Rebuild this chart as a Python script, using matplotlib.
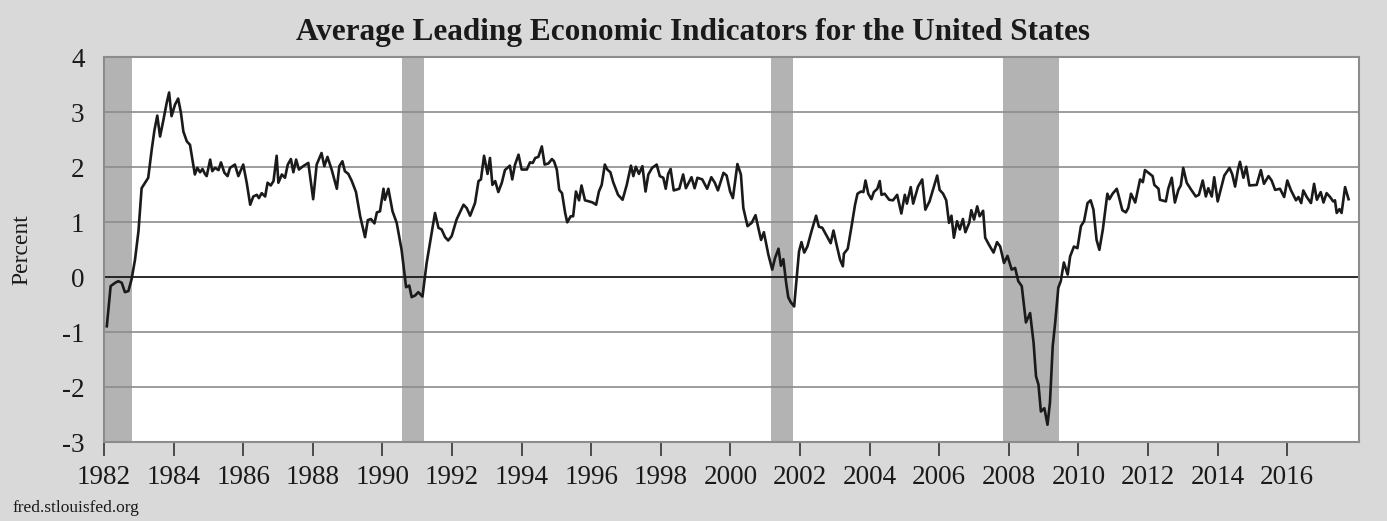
import numpy as np
import matplotlib.pyplot as plt

# decimal year / value (percent)
years = [1982.08, 1982.19, 1982.32, 1982.41, 1982.51, 1982.60, 1982.70, 1982.79, 1982.89, 1982.99,
         1983.08, 1983.18, 1983.27, 1983.37, 1983.45, 1983.53, 1983.61, 1983.70, 1983.80, 1983.87,
         1983.94, 1984.04, 1984.13, 1984.21, 1984.28, 1984.38, 1984.47, 1984.54, 1984.61, 1984.68,
         1984.76, 1984.83, 1984.90, 1984.95, 1985.05, 1985.11, 1985.19, 1985.29, 1985.36, 1985.46,
         1985.55, 1985.62, 1985.76, 1985.86, 1986.00, 1986.10, 1986.20, 1986.29, 1986.39, 1986.45,
         1986.53, 1986.63, 1986.70, 1986.79, 1986.87, 1986.96, 1987.01, 1987.11, 1987.20, 1987.28,
         1987.37, 1987.44, 1987.52, 1987.60, 1987.72, 1987.87, 1988.01, 1988.11, 1988.25, 1988.33,
         1988.42, 1988.54, 1988.69, 1988.76, 1988.85, 1988.92, 1989.02, 1989.12, 1989.24, 1989.36,
         1989.50, 1989.58, 1989.67, 1989.77, 1989.84, 1989.93, 1990.03, 1990.07, 1990.17, 1990.29,
         1990.41, 1990.55, 1990.68, 1990.77, 1990.84, 1990.94, 1991.03, 1991.15, 1991.27, 1991.39,
         1991.51, 1991.61, 1991.70, 1991.80, 1991.89, 1991.99, 1992.13, 1992.33, 1992.42, 1992.52,
         1992.66, 1992.76, 1992.83, 1992.92, 1993.02, 1993.09, 1993.16, 1993.24, 1993.33, 1993.43,
         1993.52, 1993.66, 1993.73, 1993.81, 1993.91, 1994.00, 1994.15, 1994.24, 1994.32, 1994.39,
         1994.48, 1994.58, 1994.66, 1994.77, 1994.87, 1994.93, 1995.01, 1995.08, 1995.16, 1995.25,
         1995.31, 1995.41, 1995.48, 1995.56, 1995.65, 1995.72, 1995.82, 1995.94, 1996.04, 1996.14,
         1996.22, 1996.30, 1996.39, 1996.46, 1996.55, 1996.63, 1996.77, 1996.90, 1997.02, 1997.14,
         1997.21, 1997.28, 1997.37, 1997.47, 1997.56, 1997.64, 1997.75, 1997.88, 1997.97, 1998.07,
         1998.14, 1998.21, 1998.28, 1998.37, 1998.53, 1998.64, 1998.72, 1998.80, 1998.88, 1998.97,
         1999.05, 1999.19, 1999.33, 1999.45, 1999.55, 1999.64, 1999.80, 1999.89, 1999.99, 2000.07,
         2000.20, 2000.30, 2000.37, 2000.49, 2000.61, 2000.72, 2000.80, 2000.88, 2000.96, 2001.09,
         2001.20, 2001.28, 2001.38, 2001.45, 2001.52, 2001.60, 2001.66, 2001.73, 2001.83, 2001.90,
         2001.97, 2002.04, 2002.12, 2002.21, 2002.33, 2002.46, 2002.54, 2002.64, 2002.77, 2002.88,
         2002.96, 2003.05, 2003.15, 2003.23, 2003.26, 2003.37, 2003.48, 2003.58, 2003.65, 2003.75,
         2003.82, 2003.88, 2003.96, 2004.05, 2004.12, 2004.22, 2004.29, 2004.34, 2004.43, 2004.56,
         2004.67, 2004.79, 2004.91, 2005.01, 2005.07, 2005.18, 2005.25, 2005.39, 2005.51, 2005.60,
         2005.72, 2005.94, 2006.01, 2006.11, 2006.20, 2006.28, 2006.35, 2006.42, 2006.51, 2006.59,
         2006.68, 2006.75, 2006.86, 2006.92, 2007.00, 2007.09, 2007.16, 2007.26, 2007.32, 2007.43,
         2007.56, 2007.66, 2007.75, 2007.86, 2007.96, 2008.08, 2008.18, 2008.27, 2008.37, 2008.49,
         2008.61, 2008.71, 2008.78, 2008.85, 2008.92, 2009.02, 2009.11, 2009.18, 2009.26, 2009.33,
         2009.42, 2009.49, 2009.58, 2009.69, 2009.76, 2009.87, 2009.97, 2010.07, 2010.16, 2010.26,
         2010.35, 2010.43, 2010.52, 2010.60, 2010.70, 2010.83, 2010.89, 2010.98, 2011.10, 2011.16,
         2011.26, 2011.36, 2011.43, 2011.51, 2011.63, 2011.77, 2011.85, 2011.91, 2012.01, 2012.13,
         2012.18, 2012.30, 2012.34, 2012.51, 2012.58, 2012.68, 2012.77, 2012.87, 2012.94, 2013.01,
         2013.11, 2013.22, 2013.37, 2013.46, 2013.57, 2013.66, 2013.73, 2013.83, 2013.90, 2014.00,
         2014.12, 2014.19, 2014.34, 2014.42, 2014.50, 2014.58, 2014.64, 2014.74, 2014.82, 2014.91,
         2015.12, 2015.24, 2015.33, 2015.46, 2015.55, 2015.65, 2015.79, 2015.91, 2016.00, 2016.10,
         2016.25, 2016.32, 2016.40, 2016.46, 2016.56, 2016.68, 2016.77, 2016.85, 2016.96, 2017.04,
         2017.13, 2017.23, 2017.32, 2017.37, 2017.42, 2017.50, 2017.56, 2017.66, 2017.76]

values = [-0.89, -0.16, -0.10, -0.07, -0.10, -0.27, -0.25, -0.04, 0.32, 0.84,
          1.62, 1.72, 1.81, 2.32, 2.68, 2.94, 2.56, 2.84, 3.17, 3.36,
          2.93, 3.14, 3.25, 2.99, 2.65, 2.47, 2.41, 2.14, 1.87, 1.99,
          1.91, 1.97, 1.88, 1.84, 2.14, 1.93, 1.99, 1.95, 2.09, 1.90,
          1.84, 1.99, 2.05, 1.84, 2.05, 1.72, 1.32, 1.47, 1.50, 1.44,
          1.53, 1.47, 1.72, 1.67, 1.75, 2.21, 1.72, 1.87, 1.81, 2.05,
          2.15, 1.91, 2.14, 1.96, 2.02, 2.08, 1.42, 2.05, 2.26, 2.02,
          2.19, 1.96, 1.61, 2.02, 2.11, 1.93, 1.88, 1.75, 1.55, 1.11,
          0.73, 1.04, 1.06, 0.98, 1.18, 1.20, 1.61, 1.41, 1.61, 1.20,
          0.99, 0.50, -0.18, -0.15, -0.36, -0.33, -0.27, -0.35, 0.26, 0.72,
          1.17, 0.90, 0.87, 0.73, 0.67, 0.75, 1.05, 1.32, 1.26, 1.12,
          1.35, 1.75, 1.78, 2.21, 1.88, 2.17, 1.68, 1.75, 1.55, 1.72,
          1.95, 2.03, 1.78, 2.05, 2.23, 1.96, 1.96, 2.09, 2.08, 2.17,
          2.19, 2.38, 2.05, 2.07, 2.15, 2.11, 1.96, 1.59, 1.53, 1.17,
          1.00, 1.11, 1.11, 1.56, 1.40, 1.67, 1.40, 1.38, 1.36, 1.32,
          1.56, 1.68, 2.05, 1.96, 1.91, 1.73, 1.50, 1.41, 1.68, 2.03,
          1.84, 2.01, 1.88, 2.02, 1.56, 1.87, 1.99, 2.05, 1.84, 1.81,
          1.61, 1.88, 1.97, 1.58, 1.61, 1.87, 1.62, 1.72, 1.82, 1.62,
          1.81, 1.78, 1.61, 1.82, 1.72, 1.58, 1.90, 1.85, 1.56, 1.44,
          2.06, 1.87, 1.26, 0.93, 0.99, 1.13, 0.90, 0.68, 0.82, 0.41,
          0.14, 0.35, 0.52, 0.21, 0.33, -0.10, -0.36, -0.45, -0.53, -0.04,
          0.47, 0.64, 0.45, 0.56, 0.84, 1.12, 0.92, 0.90, 0.75, 0.62,
          0.85, 0.59, 0.32, 0.20, 0.43, 0.52, 0.93, 1.32, 1.52, 1.56,
          1.55, 1.76, 1.52, 1.42, 1.55, 1.61, 1.75, 1.50, 1.52, 1.41,
          1.40, 1.50, 1.16, 1.50, 1.34, 1.64, 1.34, 1.65, 1.78, 1.23,
          1.38, 1.85, 1.59, 1.52, 1.40, 0.99, 1.12, 0.72, 1.02, 0.87,
          1.06, 0.82, 0.99, 1.22, 1.05, 1.29, 1.11, 1.21, 0.72, 0.59,
          0.45, 0.64, 0.56, 0.26, 0.39, 0.14, 0.17, -0.07, -0.16, -0.82,
          -0.65, -1.19, -1.80, -1.95, -2.44, -2.38, -2.68, -2.28, -1.25, -0.83,
          -0.19, -0.07, 0.27, 0.05, 0.38, 0.56, 0.53, 0.93, 1.02, 1.35,
          1.40, 1.23, 0.68, 0.50, 0.87, 1.52, 1.42, 1.52, 1.61, 1.47,
          1.22, 1.18, 1.26, 1.52, 1.36, 1.78, 1.73, 1.95, 1.90, 1.84,
          1.68, 1.61, 1.41, 1.38, 1.61, 1.81, 1.36, 1.59, 1.67, 1.99,
          1.72, 1.61, 1.47, 1.50, 1.76, 1.47, 1.62, 1.47, 1.82, 1.38,
          1.68, 1.85, 1.99, 1.87, 1.65, 1.95, 2.10, 1.81, 2.01, 1.67,
          1.68, 1.95, 1.70, 1.84, 1.76, 1.59, 1.61, 1.46, 1.76, 1.59,
          1.40, 1.46, 1.35, 1.58, 1.46, 1.35, 1.70, 1.41, 1.55, 1.36,
          1.53, 1.46, 1.38, 1.40, 1.17, 1.24, 1.17, 1.64, 1.42]

# recession periods (start, end) in decimal years
rec_start = [1981.5, 1990.55, 2001.17, 2007.84]
rec_end = [1982.79, 1991.19, 2001.80, 2009.43]

tick_years = list(range(1982, 2017, 2))
y_ticks = [-3, -2, -1, 0, 1, 2, 3, 4]

serif = ['Liberation Serif', 'DejaVu Serif']
bg = '#d9d9d9'

fig = plt.figure(figsize=(13.87, 5.21), dpi=100, facecolor=bg)
ax = fig.add_axes([0.075, 0.151, 0.9048, 0.739])
ax.set_facecolor('white')

for s, e in zip(rec_start, rec_end):
    ax.axvspan(s, e, color='#b3b3b3', lw=0, zorder=1)

for yv in y_ticks:
    if yv == 0:
        ax.axhline(yv, color='#1a1a1a', lw=1.3, zorder=2)
    else:
        ax.axhline(yv, color='#8c8c8c', lw=1.2, zorder=2)

ax.plot(years, values, color='#1a1a1a', lw=1.9, zorder=3)

ax.set_xlim(1982, 2018.06)
ax.set_ylim(-3, 4)
ax.set_xticks(tick_years)
ax.set_xticklabels([str(t) for t in tick_years], fontfamily=serif, fontsize=19.5, color='#1a1a1a')
ax.set_yticks(y_ticks)
ax.set_yticklabels([str(t) for t in y_ticks], fontfamily=serif, fontsize=19.5, color='#1a1a1a')
ax.tick_params(axis='x', direction='out', length=10, width=1.2, color='#333333', pad=6)
ax.tick_params(axis='y', length=0, pad=14)

for sp in ax.spines.values():
    sp.set_color('#8c8c8c')
    sp.set_linewidth(1.5)

ax.set_ylabel('Percent', fontfamily=serif, fontsize=17, color='#1a1a1a', labelpad=21)

fig.text(0.5, 0.937, 'Average Leading Economic Indicators for the United States',
         ha='center', va='center', fontfamily=serif, fontweight='bold', fontsize=22.5, color='#1a1a1a')
fig.text(0.009, 0.025, 'fred.stlouisfed.org', ha='left', va='center',
         fontfamily=serif, fontsize=12.5, color='#1a1a1a')

fig.savefig('out.png', dpi=100, facecolor=bg)
